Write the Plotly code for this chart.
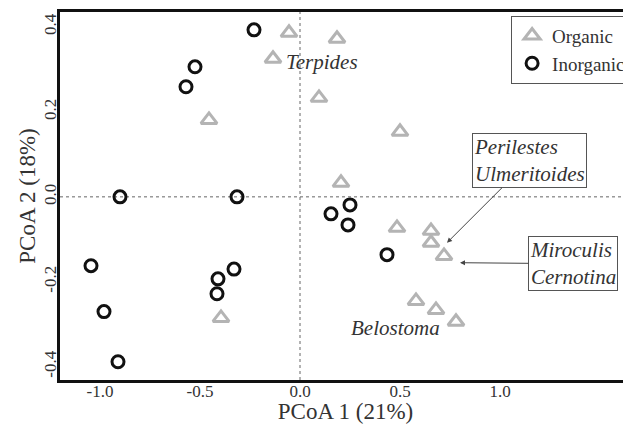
import plotly.graph_objects as go

# Organic (grey triangles)
org_x = [-0.055, -0.135, 0.185, 0.095, -0.455, 0.50, 0.205, -0.395, 0.485, 0.655, 0.655, 0.72, 0.58, 0.68, 0.78]
org_y = [0.386, 0.325, 0.372, 0.233, 0.181, 0.153, 0.033, -0.285, -0.073, -0.080, -0.108, -0.139, -0.245, -0.266, -0.294]

# Inorganic (black circles)
inorg_x = [-0.23, -0.525, -0.57, -0.90, -0.315, -1.045, -0.98, -0.91, -0.33, -0.41, -0.415, 0.155, 0.25, 0.24, 0.435]
inorg_y = [0.393, 0.306, 0.259, 0.0, 0.0, -0.162, -0.27, -0.388, -0.17, -0.193, -0.228, -0.04, -0.019, -0.066, -0.136]

x_ticks = [-1.0, -0.5, 0.0, 0.5, 1.0]
y_ticks = [-0.4, -0.2, 0.0, 0.2, 0.4]

FONT = "Liberation Serif, Times New Roman, serif"
TXT = "#333333"

fig = go.Figure()
fig.add_trace(go.Scatter(
    x=org_x, y=org_y, mode="markers", name="Organic",
    marker=dict(symbol="triangle-up-open", size=14, color="#b4b4b4",
                line=dict(width=3, color="#b4b4b4")),
))
fig.add_trace(go.Scatter(
    x=inorg_x, y=inorg_y, mode="markers", name="Inorganic",
    marker=dict(symbol="circle-open", size=12, color="#111111",
                line=dict(width=3, color="#111111")),
))

# dotted reference lines at zero
fig.add_shape(type="line", xref="x", yref="paper", x0=0, x1=0, y0=0, y1=1,
              line=dict(color="#666666", width=1, dash="dot"), layer="below")
fig.add_shape(type="line", xref="paper", yref="y", x0=0, x1=1, y0=0, y1=0,
              line=dict(color="#666666", width=1, dash="dot"), layer="below")

ann_font = dict(family=FONT, size=21, color=TXT)
fig.add_annotation(x=0.11, y=0.318, text="<i>Terpides</i>", showarrow=False, font=ann_font)
fig.add_annotation(x=0.475, y=-0.308, text="<i>Belostoma</i>", showarrow=False, font=ann_font)
fig.add_annotation(x=0.735, y=-0.108, text="<i>Perilestes<br>Ulmeritoides</i>",
                   showarrow=True, ax=82, ay=-82, align="left", font=ann_font,
                   bordercolor="#555555", borderwidth=1, borderpad=1,
                   arrowhead=2, arrowsize=1, arrowwidth=1, arrowcolor="#444444")
fig.add_annotation(x=0.80, y=-0.155, text="<i>Miroculis<br>Cernotina</i>",
                   showarrow=True, ax=113, ay=1, align="left", font=ann_font,
                   bordercolor="#555555", borderwidth=1, borderpad=1,
                   arrowhead=2, arrowsize=1, arrowwidth=1, arrowcolor="#444444")

# page body has an 8px margin, so the figure is offset by (8, 8)
fig.update_layout(
    width=623, height=416,
    margin=dict(l=52, r=0, t=4, b=44, autoexpand=False),
    paper_bgcolor="white", plot_bgcolor="white",
    font=dict(family=FONT, color=TXT),
    showlegend=True,
    legend=dict(x=0.79, y=0.99, xanchor="left", yanchor="top",
                bordercolor="#555555", borderwidth=1, bgcolor="white",
                font=dict(family=FONT, size=19, color=TXT),
                itemwidth=30, tracegroupgap=0),
    xaxis=dict(range=[-1.2, 1.655], tickvals=x_ticks, ticktext=["-1.0", "-0.5", "0.0", "0.5", "1.0"],
               showgrid=False, zeroline=False, showline=True, linecolor="#111111", linewidth=2.5,
               mirror=True, ticks="", automargin=False, ticklabelstandoff=-6,
               tickfont=dict(family=FONT, size=17, color=TXT),
               title=dict(text="PCoA 1 (21%)", font=dict(family=FONT, size=23, color=TXT), standoff=0)),
    yaxis=dict(range=[-0.431, 0.435], tickvals=y_ticks, ticktext=["-0.4", "-0.2", "0.0", "0.2", "0.4"],
               showgrid=False, zeroline=False, showline=True, linecolor="#111111", linewidth=2.5,
               mirror=False, ticks="", automargin=False, tickangle=-90, ticklabelstandoff=-6,
               tickfont=dict(family=FONT, size=17, color=TXT),
               title=dict(text="PCoA 2 (18%)", font=dict(family=FONT, size=23, color=TXT), standoff=0)),
)

fig.write_html("out.html")
